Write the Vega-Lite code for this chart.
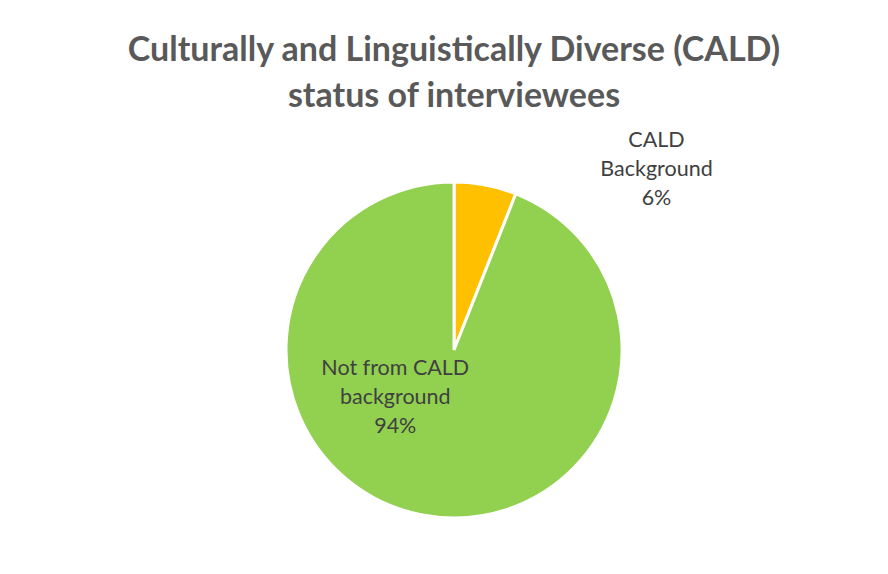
{
  "$schema": "https://vega.github.io/schema/vega-lite/v6.json",
  "width": 868,
  "height": 448,
  "autosize": {"type": "none"},
  "padding": {"left": 20, "top": 126, "right": 0, "bottom": 0},
  "background": "white",
  "config": {"view": {"stroke": null}},
  "title": {
    "text": ["Culturally and Linguistically Diverse (CALD)", "status of interviewees"],
    "font": "Lato",
    "fontSize": 34,
    "fontWeight": "bold",
    "color": "#595959",
    "anchor": "middle",
    "lineHeight": 46,
    "offset": 12
  },
  "data": {
    "values": [
      {"category": "CALD Background", "value": 6, "label": ["CALD", "Background", "6%"]},
      {"category": "Not from CALD background", "value": 94, "label": ["Not from CALD", "background", "94%"]}
    ]
  },
  "encoding": {
    "theta": {"field": "value", "type": "quantitative", "stack": true}
  },
  "layer": [
    {
      "mark": {"type": "arc", "outerRadius": 168, "stroke": "white", "strokeWidth": 3},
      "encoding": {
        "color": {
          "field": "category",
          "type": "nominal",
          "scale": {"domain": ["CALD Background", "Not from CALD background"], "range": ["#FFC000", "#92D050"]},
          "legend": null
        },
        "order": {"field": "category"}
      }
    },
    {
      "mark": {"type": "text", "radius": 168, "dx": 171, "dy": -44, "font": "Lato", "fontSize": 21.5, "lineHeight": 29, "color": "#404040", "align": "center", "baseline": "middle"},
      "encoding": {
        "text": {"condition": {"test": "datum.category === 'CALD Background'", "field": "label"}, "value": ""},
        "order": {"field": "category"}
      }
    },
    {
      "mark": {"type": "text", "radius": 84, "dx": -43, "dy": -64, "font": "Lato", "fontSize": 21.5, "lineHeight": 29, "color": "#404040", "align": "center", "baseline": "middle"},
      "encoding": {
        "text": {"condition": {"test": "datum.category === 'Not from CALD background'", "field": "label"}, "value": ""},
        "order": {"field": "category"}
      }
    }
  ]
}
